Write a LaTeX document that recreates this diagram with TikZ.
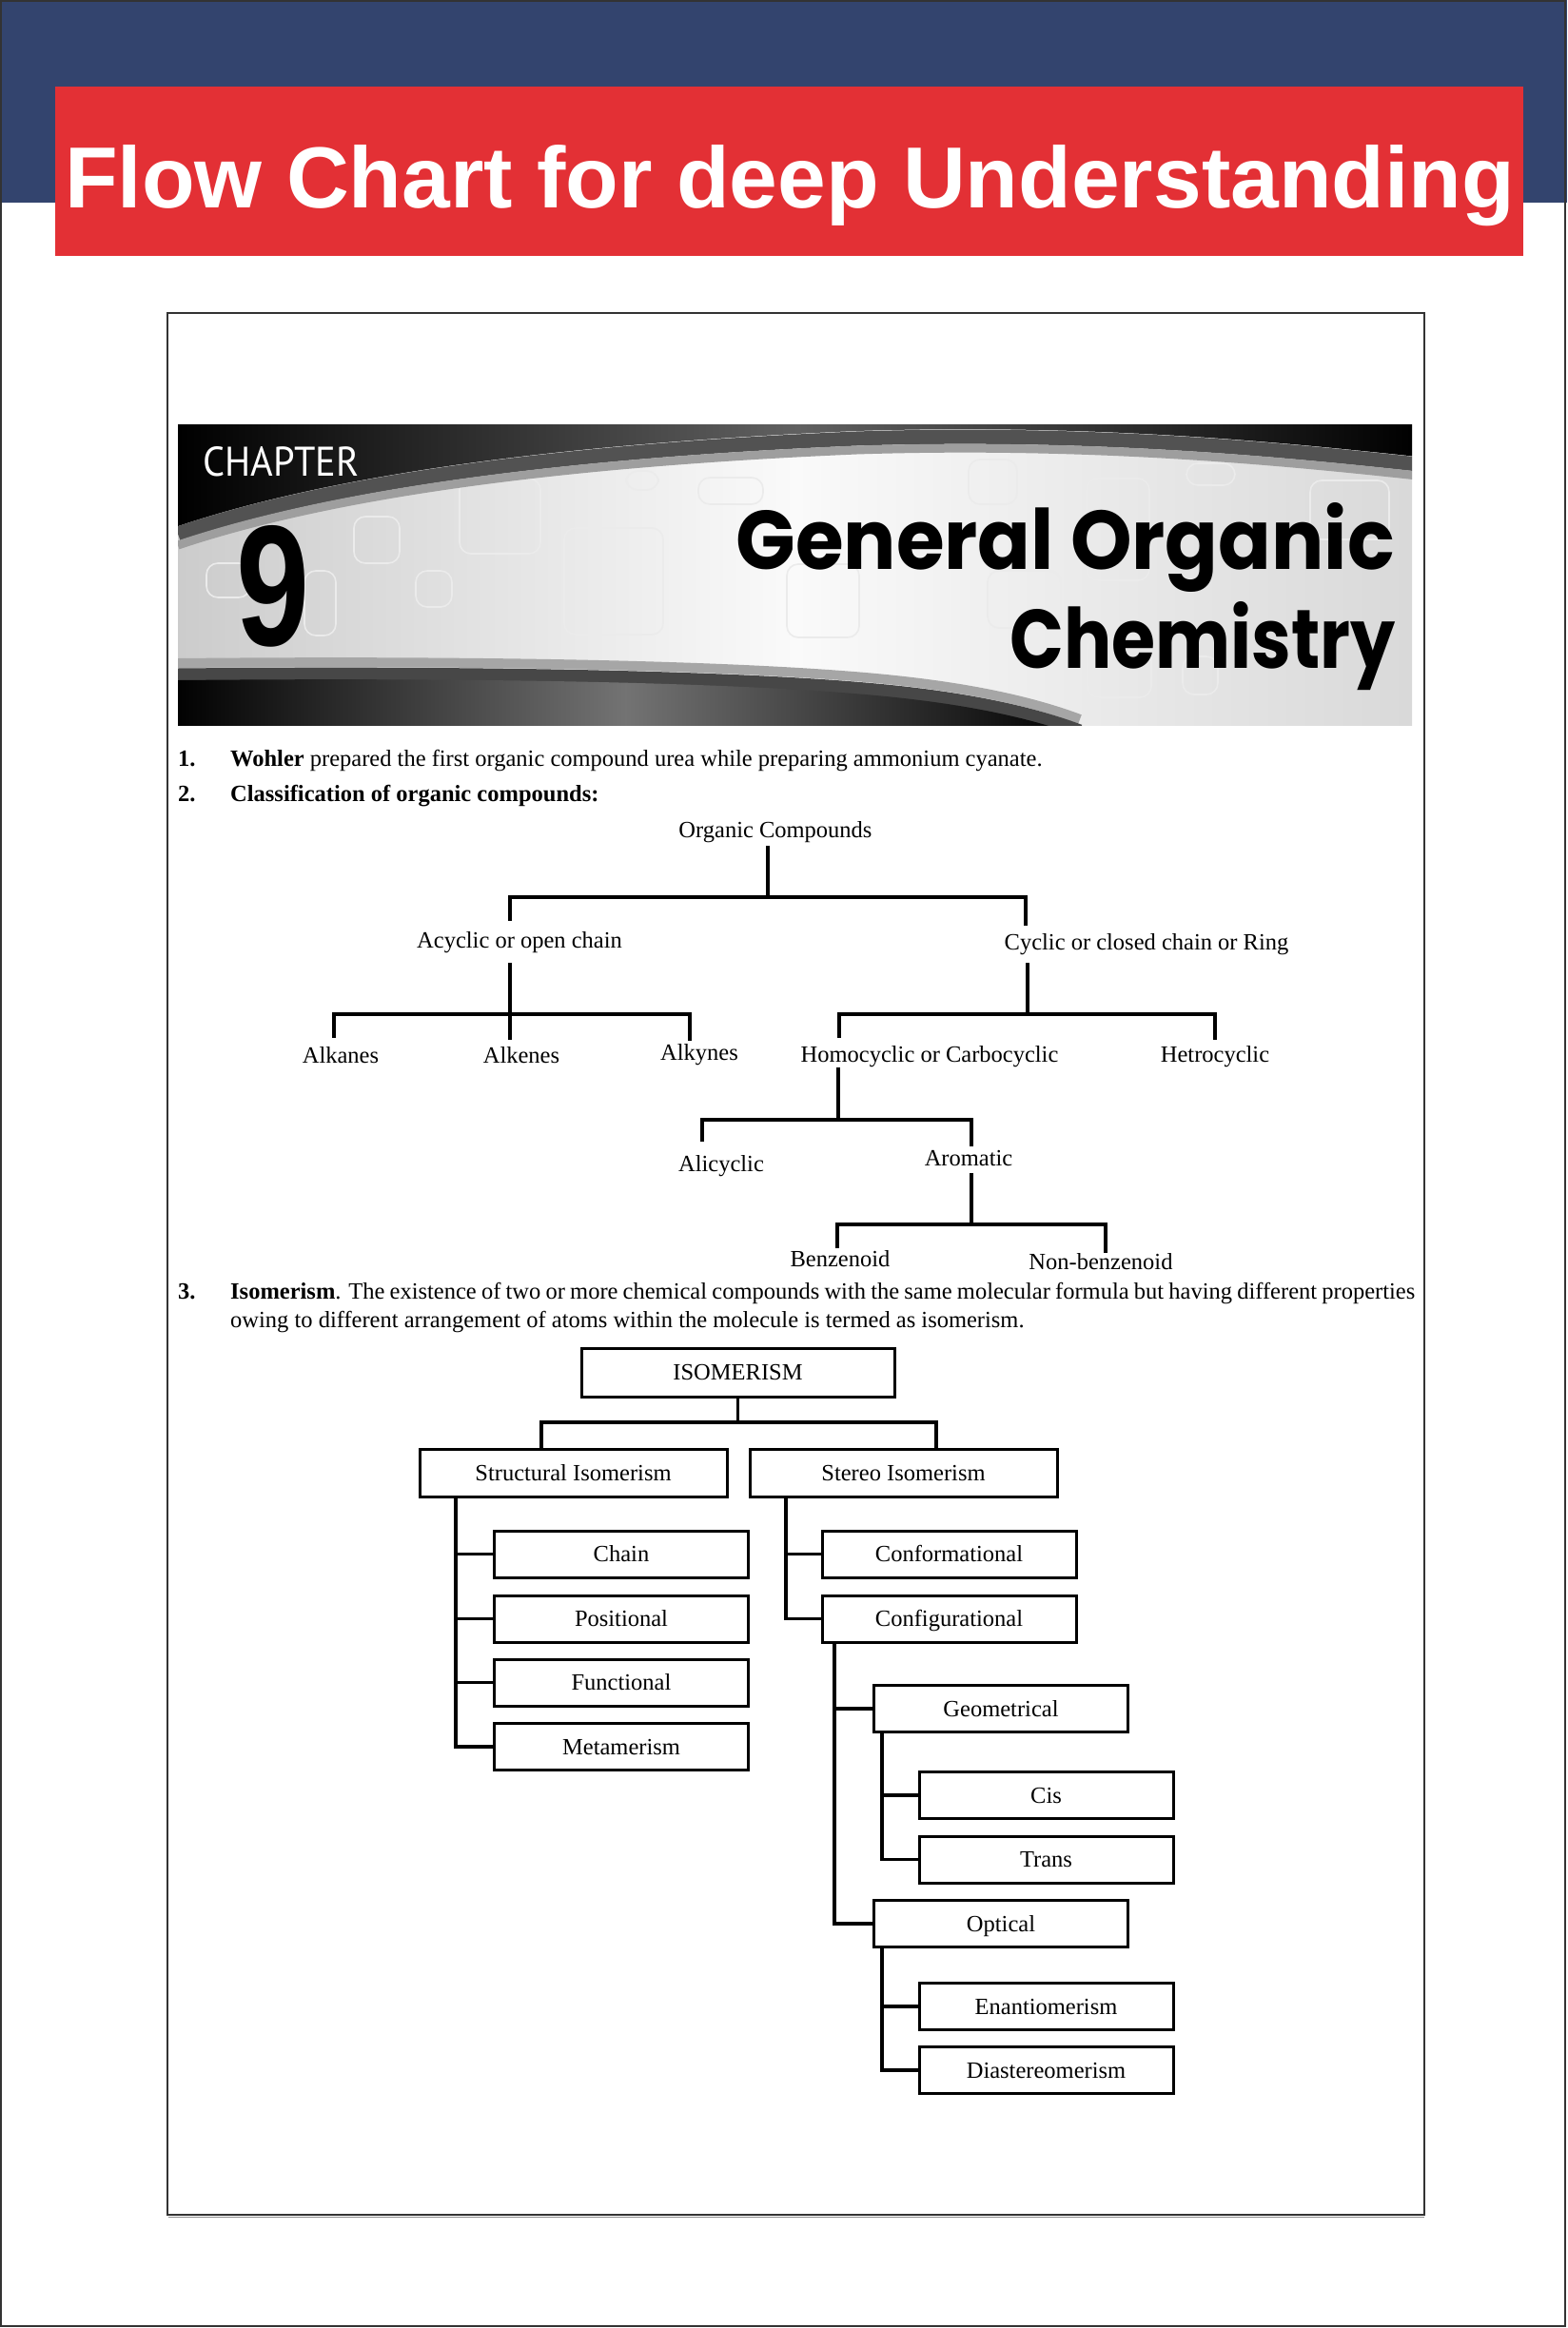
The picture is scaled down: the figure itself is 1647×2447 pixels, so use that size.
\documentclass[tikz,border=0pt]{standalone}
\usepackage{fontspec}
\usepackage{graphicx}
\setmainfont{Liberation Serif}
\newfontfamily\arialfont{Liberation Sans}
\newfontfamily\popfont{Poppins}
\newfontfamily\ptfont{PT Sans}
\definecolor{navy}{HTML}{33446E}
\definecolor{redb}{HTML}{E33035}
\definecolor{frame}{HTML}{333333}
\begin{document}
\begin{tikzpicture}[x=1pt,y=-1pt,
  body/.style={inner sep=0pt, font=\fontsize{24.5}{29}\selectfont},
  lbl/.style={body, anchor=base},
  conn/.style={line width=3.1pt},
  ibox/.style={draw, line width=3pt, rectangle, inner sep=0pt, text height=20pt, text depth=4pt, font=\fontsize{24.5}{29}\selectfont},
  kid/.style={ibox, minimum width=267pt, minimum height=49pt},
  sq/.style={draw=black!8, line width=1.6pt, rounded corners=12pt},
]
\useasboundingbox (0,0) rectangle (1647,2447);
% page
\fill[white] (0,0) rectangle (1647,2447);
\fill[navy] (0,0) rectangle (1647,213);
\draw[frame, line width=2pt] (1,1) rectangle (1645,2445);
\fill[redb] (58,91) rectangle (1601,269);
\node[inner sep=0pt, anchor=base west, text=white] (title) at (68,218)
  {\resizebox{1523pt}{66pt}{\arialfont\bfseries Flow Chart for deep Understanding}};
% inner frame
\draw[frame, line width=1.6pt] (176,329) rectangle (1497,2328);
\draw[black!45, line width=1.5pt] (177,2330.5) -- (1497,2330.5);

% ---------- chapter banner ----------
\begin{scope}
\clip (187,446) rectangle (1484,762);
\shade[left color=black!20, right color=black!15, middle color=black!2] (187,446) rectangle (1484,762);
\foreach \a/\b/\c/\d in {372/543/420/592, 483/503/568/582, 437/600/475/638, 593/555/697/667,
  217/592/263/628, 320/600/353/668, 658/495/692/515, 734/502/802/530, 827/593/903/670,
  1018/483/1069/530, 1142/503/1208/610, 1038/600/1115/660, 1377/505/1460/567,
  1143/670/1210/733, 1243/690/1280/730, 1247/487/1298/510}
  \draw[sq] (\a,\b) rectangle (\c,\d);
% top dark region
\shade[left color=black, right color=black, middle color=black!62]
  (187,440) -- (187,553) .. controls (330,505) and (550,468) .. (900,453)
  .. controls (1150,445) and (1350,465) .. (1490,480) -- (1490,440) -- cycle;
\draw[black!68, line width=15pt] (187,561) .. controls (330,513) and (550,476) .. (900,461)
  .. controls (1150,453) and (1350,473) .. (1490,488);
\draw[black!38, line width=9pt] (187,573) .. controls (330,525) and (550,488) .. (900,473)
  .. controls (1150,465) and (1350,485) .. (1490,500);
% bottom dark region
\draw[black!35, line width=10pt] (187,697) .. controls (500,694) and (800,699) .. (950,716)
  .. controls (1030,725) and (1090,739) .. (1135,756);
\draw[black!72, line width=13pt] (187,709) .. controls (500,706) and (800,711) .. (950,728)
  .. controls (1030,737) and (1090,751) .. (1135,768);
\shade[left color=black, right color=black, middle color=black!55]
  (187,715) .. controls (500,712) and (800,717) .. (950,734)
  .. controls (1030,743) and (1090,757) .. (1135,774) -- (1135,770) -- (180,770) -- cycle;
\end{scope}
\node[inner sep=0pt, anchor=base west, text=white] (chap) at (213,500)
  {\resizebox{164pt}{31pt}{\ptfont CHAPTER}};
\node[inner sep=0pt, anchor=base west] (num) at (248,678)
  {\resizebox{77pt}{126pt}{\arialfont\bfseries 9}};
\node[inner sep=0pt, anchor=base east] (gen) at (1466,598)
  {\resizebox{692pt}{70pt}{\popfont\bfseries General Organic}};
\node[inner sep=0pt, anchor=base east] (chem) at (1467,702)
  {\resizebox{405pt}{70pt}{\popfont\bfseries Chemistry}};

% ---------- text ----------
\node[lbl, anchor=base west] (n1) at (187,805) {\bfseries 1.};
\node[lbl, anchor=base west] (l1) at (242,805) {{\bfseries Wohler} prepared the first organic compound urea while preparing ammonium cyanate.};
\node[lbl, anchor=base west] (n2) at (187,842) {\bfseries 2.};
\node[lbl, anchor=base west] (l2) at (242,842) {\bfseries Classification of organic compounds:};
\node[lbl, anchor=base west] (n3) at (187,1365) {\bfseries 3.};
\node[lbl, anchor=base west] (l3) at (242,1365) {\makebox[1245pt][s]{{\bfseries Isomerism}. The existence of two or more chemical compounds with the same molecular formula but having different properties}};
\node[lbl, anchor=base west] (l4) at (242,1395) {owing to different arrangement of atoms within the molecule is termed as isomerism.};

% ---------- classification tree ----------
\node[lbl] (oc) at (815,880) {Organic Compounds};
\node[lbl] (acy) at (546,996) {Acyclic or open chain};
\node[lbl] (cyc) at (1205,998) {Cyclic or closed chain or Ring};
\node[lbl] (alkanes) at (358,1117) {Alkanes};
\node[lbl] (alkenes) at (548,1117) {Alkenes};
\node[lbl] (alkynes) at (735,1114) {Alkynes};
\node[lbl] (homo) at (977,1116) {Homocyclic or Carbocyclic};
\node[lbl] (hetro) at (1277,1116) {Hetrocyclic};
\node[lbl] (alicyc) at (758,1231) {Alicyclic};
\node[lbl] (arom) at (1018,1225) {Aromatic};
\node[lbl] (benz) at (883,1331) {Benzenoid};
\node[lbl] (nonbenz) at (1157,1334) {Non-benzenoid};

\coordinate (a0) at (807,889);  \coordinate (a1) at (807,943);
\coordinate (a2) at (536,968);  \coordinate (a3) at (536,943);
\coordinate (a4) at (1078,943); \coordinate (a5) at (1078,973);
\draw[conn] (a0) -- (a1);
\draw[conn] (a2) -- (a3) -- (a4) -- (a5);

\coordinate (b0) at (536,1012); \coordinate (b1) at (536,1093);
\coordinate (b2) at (351,1091); \coordinate (b3) at (351,1066);
\coordinate (b4) at (725,1066); \coordinate (b5) at (725,1094);
\draw[conn] (b0) -- (b1);
\draw[conn] (b2) -- (b3) -- (b4) -- (b5);

\coordinate (c0) at (1080,1012); \coordinate (c1) at (1080,1066);
\coordinate (c2) at (882,1091);  \coordinate (c3) at (882,1066);
\coordinate (c4) at (1277,1066); \coordinate (c5) at (1277,1093);
\draw[conn] (c0) -- (c1);
\draw[conn] (c2) -- (c3) -- (c4) -- (c5);

\coordinate (d0) at (881,1122); \coordinate (d1) at (881,1177);
\coordinate (d2) at (738,1200); \coordinate (d3) at (738,1177);
\coordinate (d4) at (1021,1177); \coordinate (d5) at (1021,1205);
\draw[conn] (d0) -- (d1);
\draw[conn] (d2) -- (d3) -- (d4) -- (d5);

\coordinate (e0) at (1021,1233); \coordinate (e1) at (1021,1287);
\coordinate (e2) at (880,1312);  \coordinate (e3) at (880,1287);
\coordinate (e4) at (1162,1287); \coordinate (e5) at (1162,1317);
\draw[conn] (e0) -- (e1);
\draw[conn] (e2) -- (e3) -- (e4) -- (e5);

% ---------- isomerism tree ----------
\node[ibox, minimum width=329pt, minimum height=51pt] (iso) at (775.5,1442.5) {ISOMERISM};
\node[ibox, minimum width=323pt, minimum height=50pt] (struct) at (602.5,1548) {Structural Isomerism};
\node[ibox, minimum width=323pt, minimum height=50pt] (stereo) at (949.5,1548) {Stereo Isomerism};
\node[kid] (chain) at (653,1633.5) {Chain};
\node[kid] (posi) at (653,1701.5) {Positional};
\node[kid] (func) at (653,1768.5) {Functional};
\node[kid] (meta) at (653,1836) {Metamerism};
\node[kid] (conform) at (997.5,1633.5) {Conformational};
\node[kid] (config) at (997.5,1701.5) {Configurational};
\node[kid] (geom) at (1052,1796) {Geometrical};
\node[kid] (cis) at (1099.5,1887) {Cis};
\node[kid] (trans) at (1099.5,1954.5) {Trans};
\node[kid] (optical) at (1052,2022) {Optical};
\node[kid] (enant) at (1099.5,2109) {Enantiomerism};
\node[kid] (diast) at (1099.5,2176) {Diastereomerism};

\coordinate (isob) at (775.5,1495);
\coordinate (sbL) at (569,1495);
\coordinate (sbR) at (984,1495);
\draw[conn] (iso.south) -- (isob);
\draw[conn] (struct.north -| sbL) -- (sbL) -- (sbR) -- (stereo.north -| sbR);

\coordinate (trS) at (479,0);
\coordinate (trT) at (826,0);
\coordinate (trC) at (877,0);
\coordinate (trG) at (927,0);
\draw[conn] (struct.south -| trS) |- (meta.west);
\draw[conn] (chain.west) -- (chain.west -| trS);
\draw[conn] (posi.west) -- (posi.west -| trS);
\draw[conn] (func.west) -- (func.west -| trS);

\draw[conn] (stereo.south -| trT) |- (config.west);
\draw[conn] (conform.west) -- (conform.west -| trT);

\draw[conn] (config.south -| trC) |- (optical.west);
\draw[conn] (geom.west) -- (geom.west -| trC);

\draw[conn] (geom.south -| trG) |- (trans.west);
\draw[conn] (cis.west) -- (cis.west -| trG);

\draw[conn] (optical.south -| trG) |- (diast.west);
\draw[conn] (enant.west) -- (enant.west -| trG);
\end{tikzpicture}
\end{document}
